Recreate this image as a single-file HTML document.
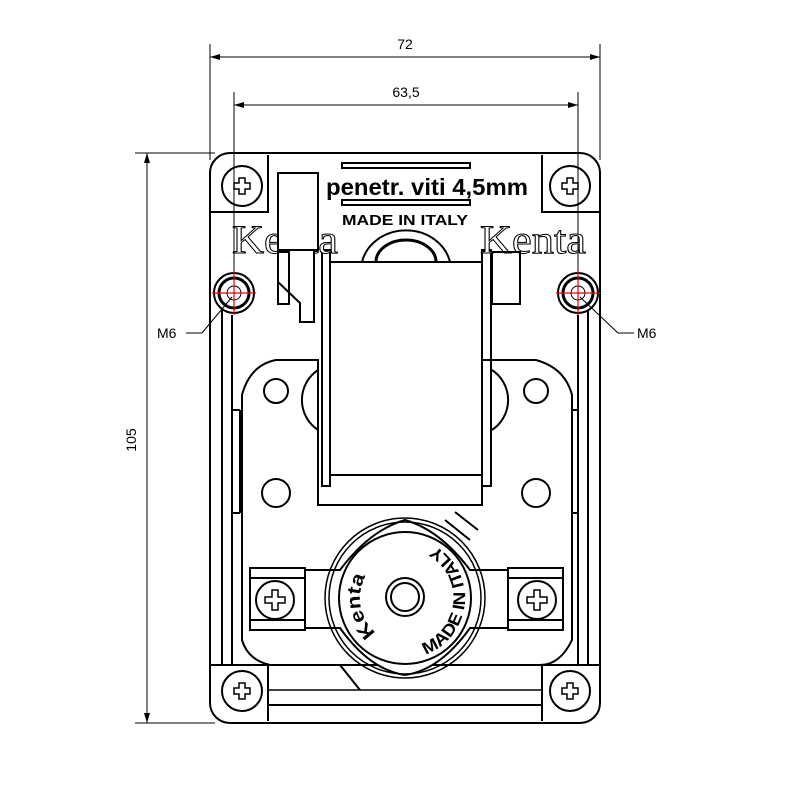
<!DOCTYPE html>
<html><head><style>html,body{margin:0;padding:0;background:#fff}svg{display:block}</style></head>
<body>
<svg width="800" height="800" viewBox="0 0 800 800" xmlns="http://www.w3.org/2000/svg" font-family="Liberation Sans, sans-serif">
<defs>
<marker id="a" viewBox="0 0 10 6" refX="10" refY="3" markerWidth="10" markerHeight="6" orient="auto-start-reverse" markerUnits="userSpaceOnUse"><path d="M0,0L10,3L0,6z" fill="#000"/></marker>
<path id="pk" d="M376.1,632.5 A45,45 0 0 1 368.1,572.2" fill="none"/>
<path id="pm" d="M425.5,654.4 A60,60 0 0 0 430.4,543.6" fill="none"/>
</defs>
<g stroke="#000" stroke-width="1" fill="none">
<line x1="210" y1="44" x2="210" y2="160"/><line x1="600" y1="44" x2="600" y2="160"/>
<line x1="210" y1="57" x2="600" y2="57" marker-start="url(#a)" marker-end="url(#a)"/>
<line x1="234" y1="92" x2="234" y2="300"/><line x1="578" y1="92" x2="578" y2="300"/>
<line x1="234" y1="105" x2="578" y2="105" marker-start="url(#a)" marker-end="url(#a)"/>
<line x1="135" y1="153" x2="215" y2="153"/><line x1="135" y1="723" x2="215" y2="723"/>
<line x1="147" y1="153" x2="147" y2="723" marker-start="url(#a)" marker-end="url(#a)"/>
<line x1="186" y1="333" x2="202" y2="333"/><line x1="202" y1="333" x2="232" y2="297"/>
<line x1="634" y1="333" x2="618" y2="333"/><line x1="618" y1="333" x2="580" y2="297"/>
</g>
<g fill="#000" font-size="14">
<text x="405" y="49" text-anchor="middle">72</text>
<text x="406" y="97" text-anchor="middle">63,5</text>
<text x="136" y="440" text-anchor="middle" transform="rotate(-90 136 440)">105</text>
<text x="157" y="338">M6</text>
<text x="637" y="338">M6</text>
</g>

<g stroke="#000" stroke-width="2" fill="none">
<rect x="210" y="153" width="390" height="570" rx="20"/>
<path d="M210,212 L268,212 L268,155"/><path d="M600,212 L542,212 L542,155"/>
<path d="M210,665 L268,665 L268,721"/><path d="M600,665 L542,665 L542,721"/>
<line x1="268" y1="705" x2="542" y2="705"/>
<line x1="268" y1="690" x2="542" y2="690" stroke-width="1.5"/>
<line x1="222" y1="310" x2="222" y2="665"/><line x1="232" y1="315" x2="232" y2="665"/>
<line x1="588" y1="310" x2="588" y2="665"/><line x1="578" y1="315" x2="578" y2="665"/>
<path d="M232,410 L240,410 M232,513 L240,513 M240,410 L240,513"/>
<path d="M578,410 L572,410 M578,513 L572,513 M572,410 L572,513"/>
<path d="M242,640 L242,395 Q250,365 276,360 L318,360 L318,505 L482,505 L482,360 L536,360 Q565,368 572,395 L572,640 Q560,665 540,665 L270,665 Q248,660 242,640Z"/>
<path d="M318,370 A36,36 0 0 0 318,430" /><path d="M492,370 A36,36 0 0 1 492,430"/>
<circle cx="276" cy="391" r="12"/><circle cx="276" cy="493" r="14"/>
<circle cx="536" cy="391" r="12"/><circle cx="536" cy="493" r="14"/>
<rect x="322" y="250" width="8" height="236"/><rect x="482" y="250" width="9" height="236"/>
<rect x="330" y="262" width="152" height="213"/>
<path d="M362,262 A45,40 0 0 1 450,262"/><path d="M376,262 A30,22 0 0 1 436,262" stroke-width="3"/>
<rect x="342" y="163" width="128" height="5"/><rect x="342" y="200" width="128" height="5"/>
<circle cx="242" cy="186" r="20"/><circle cx="570" cy="186" r="20"/>
<circle cx="242" cy="691" r="20"/><circle cx="570" cy="691" r="20"/>
<circle cx="234" cy="293" r="20"/><circle cx="234" cy="293" r="15" stroke-width="3"/><circle cx="234" cy="293" r="7" stroke-width="1"/>
<circle cx="578" cy="293" r="20"/><circle cx="578" cy="293" r="15" stroke-width="3"/><circle cx="578" cy="293" r="7" stroke-width="1"/>
<path d="M305,570 L340,570 Q370,530 405,520 Q440,530 470,570 L508,570 L508,628 L470,628 Q440,670 405,675 Q370,670 340,628 L305,628 Z" fill="#fff"/>
<rect x="250" y="568" width="55" height="62"/><rect x="508" y="568" width="55" height="62"/>
<line x1="250" y1="578" x2="305" y2="578"/><line x1="250" y1="620" x2="305" y2="620"/>
<line x1="508" y1="578" x2="563" y2="578"/><line x1="508" y1="620" x2="563" y2="620"/>
<circle cx="275" cy="600" r="19"/><circle cx="537" cy="600" r="19"/>
<circle cx="405" cy="598" r="80" stroke-width="1.5"/><circle cx="405" cy="598" r="76" stroke-width="1.5"/>
<circle cx="405" cy="598" r="66" fill="#fff"/>
<circle cx="405" cy="597" r="19"/><circle cx="405" cy="597" r="14"/>
<path d="M445,520 L470,540 M455,512 L478,530" stroke-width="2"/>
<path d="M340,665 L360,690" stroke-width="2"/>
</g>
<g fill="#fff" stroke="#000" stroke-width="1.5">
<path d="M239,178h6v5h5v6h-5v5h-6v-5h-5v-6h5z"/>
<path d="M567,178h6v5h5v6h-5v5h-6v-5h-5v-6h5z"/>
<path d="M239,683h6v5h5v6h-5v5h-6v-5h-5v-6h5z"/>
<path d="M567,683h6v5h5v6h-5v5h-6v-5h-5v-6h5z"/>
<path d="M272,590h6v7h7v6h-7v7h-6v-7h-7v-6h7z"/>
<path d="M534,590h6v7h7v6h-7v7h-6v-7h-7v-6h7z"/>
</g>
<g stroke="#e00" stroke-width="1.2">
<line x1="212" y1="293" x2="256" y2="293"/><line x1="234" y1="271" x2="234" y2="315"/>
<line x1="556" y1="293" x2="600" y2="293"/><line x1="578" y1="271" x2="578" y2="315"/>
</g>
<text x="326" y="195" font-size="23" font-weight="bold" fill="#000" textLength="202" lengthAdjust="spacingAndGlyphs">penetr. viti 4,5mm</text>
<text x="342" y="225" font-size="15" font-weight="bold" fill="#000" textLength="126" lengthAdjust="spacingAndGlyphs">MADE IN ITALY</text>
<text x="232" y="253" font-size="40" fill="#fff" stroke="#000" stroke-width="1" font-family="Liberation Serif, serif" textLength="106" lengthAdjust="spacingAndGlyphs">Kenta</text>
<text x="480" y="253" font-size="40" fill="#fff" stroke="#000" stroke-width="1" font-family="Liberation Serif, serif" textLength="106" lengthAdjust="spacingAndGlyphs">Kenta</text>
<path d="M278,173 L318,173 L318,250 L314,250 L314,322 L300,322 L300,303 L278,282 Z" fill="#fff" stroke="#000" stroke-width="2"/>
<rect x="278" y="252" width="11" height="52" fill="none" stroke="#000" stroke-width="2"/>
<rect x="492" y="252" width="28" height="52" fill="none" stroke="#000" stroke-width="2"/>
<line x1="278" y1="250" x2="318" y2="250" stroke="#000" stroke-width="2"/>
<text font-size="19" font-weight="bold" fill="#000"><textPath href="#pk" textLength="62" lengthAdjust="spacingAndGlyphs">Kenta</textPath></text>
<text font-size="17" font-weight="bold" fill="#000"><textPath href="#pm" textLength="136" lengthAdjust="spacingAndGlyphs">MADE IN ITALY</textPath></text>
</svg>
</body></html>
